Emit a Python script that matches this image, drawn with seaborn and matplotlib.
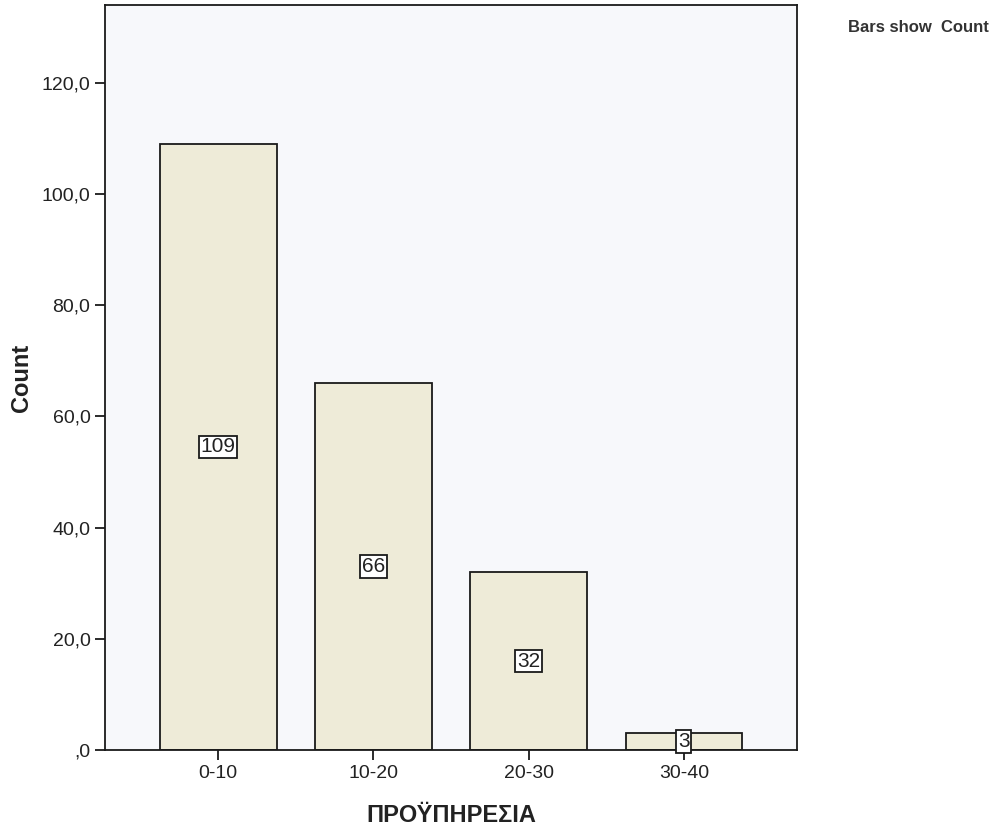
import numpy as np
import pandas as pd
import matplotlib
matplotlib.use('Agg')
import matplotlib.pyplot as plt
import matplotlib.ticker as mticker
import seaborn as sns

# data
categories = ["0-10", "10-20", "20-30", "30-40"]
counts = [109, 66, 32, 3]
y_ticks = [0, 20, 40, 60, 80, 100, 120]

sns.set_theme(style="white")
plt.rcParams['font.family'] = ['Liberation Sans', 'DejaVu Sans']

BAR_COLOR = "#eeebd8"
BG_COLOR = "#f7f8fb"
TEXT_COLOR = "#222222"

df = pd.DataFrame({"cat": categories, "count": counts})

fig = plt.figure(figsize=(10.06, 8.30), dpi=100)
ax = fig.add_axes([0.1044, 0.0964, 0.688, 0.8976])
ax.set_facecolor(BG_COLOR)

sns.barplot(data=df, x="cat", y="count", color=BAR_COLOR, width=0.75,
            edgecolor="#1a1a1a", linewidth=1.3, saturation=1, ax=ax)

ax.set_xlim(-0.73, 3.73)
ax.set_ylim(0, 134)
ax.set_yticks(y_ticks)

def fmt(v, pos):
    s = f"{v:.1f}".replace(".", ",")
    return s[1:] if s.startswith("0") else s

ax.yaxis.set_major_formatter(mticker.FuncFormatter(fmt))
ax.tick_params(axis="both", which="major", direction="out", length=7, width=1.3,
               colors="#1a1a1a", labelsize=14, labelcolor=TEXT_COLOR, bottom=True, left=True)

for s in ax.spines.values():
    s.set_color("#1a1a1a")
    s.set_linewidth(1.3)

# value labels in boxes at mid-height
for i, c in enumerate(counts):
    ax.text(i, c / 2, str(c), ha="center", va="center", fontsize=15, color=TEXT_COLOR,
            bbox=dict(boxstyle="square,pad=0.08", facecolor="white", edgecolor="#1a1a1a", linewidth=1.3))

ax.set_xlabel("ΠΡΟΫΠΗΡΕΣΙΑ", fontsize=17, fontweight="bold", color=TEXT_COLOR, labelpad=16)
ax.set_ylabel("Count", fontsize=17, fontweight="bold", color=TEXT_COLOR, labelpad=6)

fig.text(0.843, 0.967, "Bars show  Count", fontsize=12, fontweight="bold", color="#333333",
         ha="left", va="center")

fig.savefig("out.png", dpi=100)
